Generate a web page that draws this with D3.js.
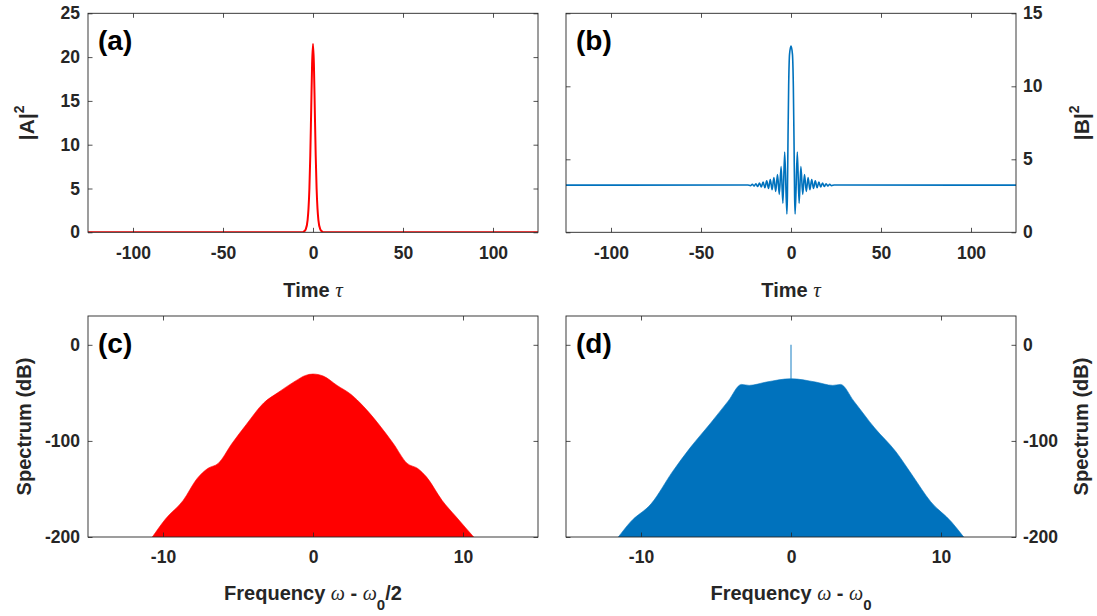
<!DOCTYPE html>
<html lang="en">
<head>
<meta charset="UTF-8">
<title>Pulse and spectrum panels</title>
<script src="https://d3js.org/d3.v7.min.js"></script>
<style>
  body { margin: 0; background: #fff; }
  svg { display: block; }
  .tick text { font-family: "Liberation Sans", Arial, sans-serif; font-weight: bold; fill: #262626; }
  .lbl { font-family: "Liberation Sans", Arial, sans-serif; font-weight: bold; fill: #262626; }
  .greek { font-family: "Liberation Serif", "DejaVu Serif", serif; font-style: italic; font-weight: normal; }
  .panel { font-family: "Liberation Sans", Arial, sans-serif; font-weight: bold; fill: #000; }
</style>
</head>
<body>
<svg id="fig" width="1097" height="616"></svg>
<script>
// ---- data ----
// (a) |A|^2 versus time
const aTau = [-125, -6, -5, -4, -3, -2.5, -2, -1.5, -1, -0.5, 0, 0.5, 1, 1.5, 2, 2.5, 3, 4, 5, 6, 125];
const aPow = [0, 0, 0.1, 0.37, 1.4, 2.7, 5.0, 8.8, 14.0, 19.2, 21.5, 19.2, 14.0, 8.8, 5.0, 2.7, 1.4, 0.37, 0.1, 0, 0];

// (b) |B|^2 versus time (extrema of the ringing tail)
const bTau = [-125, -24, -22.5, -21.5, -20.5, -19.5, -18.5, -17.5, -16.5, -15.5, -14.5, -13.5, -12.5, -11.5, -10.5,
  -9.5, -8.5, -7.5, -6.5, -5.5, -4.5, -3.5, -2.3, -2.0, -1.7, -1.3, -0.8, 0,
  0.8, 1.3, 1.7, 2.0, 2.3, 3.5, 4.5, 5.5, 6.5, 7.5, 8.5, 9.5,
  10.5, 11.5, 12.5, 13.5, 14.5, 15.5, 16.5, 17.5, 18.5, 19.5, 20.5, 21.5, 22.5, 24, 125];
const bPow = [3.23, 3.24, 3.2, 3.29, 3.17, 3.33, 3.14, 3.38, 3.1, 3.44, 3.05, 3.52, 3.0, 3.62, 2.92,
  3.75, 2.8, 3.95, 2.6, 4.5, 2.0, 5.5, 1.25, 2.5, 6.0, 10.0, 12.2, 12.75,
  12.2, 10.0, 6.0, 2.5, 1.25, 5.5, 2.0, 4.5, 2.6, 3.95, 2.8, 3.75,
  2.92, 3.62, 3.0, 3.52, 3.05, 3.44, 3.1, 3.38, 3.14, 3.33, 3.17, 3.29, 3.2, 3.24, 3.23];

// (c) spectrum of A (dB)
const cFreq = [-10.71, -9.82, -8.66, -7.72, -7.02, -6.32, -5.39, -4.46, -3.29, -2.36, -1.19, -0.49, 0,
  0.68, 1.61, 2.54, 3.36, 4.41, 5.34, 6.28, 6.98, 7.56, 8.61, 9.54, 10.71];
const cDb = [-200, -181, -162, -139, -128.7, -123.4, -102.4, -83.2, -60.5, -50, -37.8, -31.8, -30.4,
  -32.5, -42.3, -51.7, -64, -83.2, -102.4, -123.4, -128.7, -137.4, -162, -179, -200];

// (d) spectrum of B (dB)
const dFreq = [-11.51, -10.7, -9.3, -7.9, -6.74, -5.35, -4.19, -3.3, -2.79, -1.63, 0,
  1.63, 2.79, 3.3, 4.19, 5.58, 6.98, 8.14, 9.3, 10.7, 11.51];
const dDb = [-200, -184.3, -165, -132, -107.5, -81.3, -58.6, -41.2, -42.2, -38.7, -35.3,
  -38.7, -42.2, -41.2, -58.6, -86.6, -111, -137, -163, -184.3, -200];
// narrow pump line at the centre of (d)
const dSpikeFreq = [0];
const dSpikeDb = [0];

// ticks
const timeTicks = [-100, -50, 0, 50, 100];
const freqTicks = [-10, 0, 10];
const aTicks = [0, 5, 10, 15, 20, 25];
const bTicks = [0, 5, 10, 15];
const dbTicks = [-200, -100, 0];

const RED = "#ff0000";
const BLUE = "#0072bd";

const svg = d3.select("#fig");
const tickLen = 4.5;

const cols = [{x0: 88, x1: 538}, {x0: 566, x1: 1016}];
const rows = [{y0: 13.3, y1: 232.3}, {y0: 316, y1: 537}];

function makePanel(opt) {
  const c = cols[opt.col], r = rows[opt.row];
  const x = d3.scaleLinear().domain(opt.xDomain).range([c.x0, c.x1]);
  const y = d3.scaleLinear().domain(opt.yDomain).range([r.y1, r.y0]);
  const g = svg.append("g");
  const id = "clip" + opt.name.replace(/\W/g, "");

  svg.append("clipPath").attr("id", id)
    .append("rect").attr("x", c.x0).attr("y", r.y0)
    .attr("width", c.x1 - c.x0).attr("height", r.y1 - r.y0);

  const plot = g.append("g").attr("clip-path", `url(#${id})`);
  opt.draw(plot, x, y);

  const fmt = d => String(d);
  const styleAxis = sel => {
    sel.select(".domain").remove();
    sel.selectAll(".tick line").attr("stroke", "#262626").attr("stroke-width", 0.8);
    sel.selectAll(".tick text").attr("font-size", 17.5);
    sel.attr("font-family", null).attr("font-size", null);
  };

  g.append("g").attr("transform", `translate(0,${r.y1})`)
    .call(d3.axisBottom(x).tickValues(opt.xTicks).tickFormat(fmt)
      .tickSizeInner(-tickLen).tickSizeOuter(0).tickPadding(14))
    .call(styleAxis);
  g.append("g").attr("transform", `translate(0,${r.y0})`)
    .call(d3.axisTop(x).tickValues(opt.xTicks).tickFormat("")
      .tickSizeInner(-tickLen).tickSizeOuter(0))
    .call(styleAxis);

  const labelLeft = opt.ySide === "left";
  g.append("g").attr("transform", `translate(${c.x0},0)`)
    .call(d3.axisLeft(y).tickValues(opt.yTicks).tickFormat(labelLeft ? fmt : "")
      .tickSizeInner(-tickLen).tickSizeOuter(0).tickPadding(8))
    .call(styleAxis);
  g.append("g").attr("transform", `translate(${c.x1},0)`)
    .call(d3.axisRight(y).tickValues(opt.yTicks).tickFormat(labelLeft ? "" : fmt)
      .tickSizeInner(-tickLen).tickSizeOuter(0).tickPadding(7))
    .call(styleAxis);

  g.append("rect")
    .attr("x", c.x0).attr("y", r.y0)
    .attr("width", c.x1 - c.x0).attr("height", r.y1 - r.y0)
    .attr("fill", "none").attr("stroke", "#262626").attr("stroke-width", 0.9);

  g.append("text").attr("class", "panel")
    .attr("x", c.x0 + 10).attr("y", r.y0 + 37)
    .attr("font-size", 28).text(opt.name);

  // x label
  const xl = g.append("text").attr("class", "lbl")
    .attr("x", (c.x0 + c.x1) / 2).attr("y", opt.row === 0 ? 297 : 600)
    .attr("text-anchor", "middle").attr("font-size", 20);
  opt.xLabel(xl);

  // y label
  const yc = (r.y0 + r.y1) / 2;
  const yl = g.append("text").attr("class", "lbl")
    .attr("transform", `translate(${opt.yLabelX},${yc}) rotate(-90)`)
    .attr("text-anchor", "middle").attr("font-size", 20);
  opt.yLabel(yl);
}

function powLabel(letter) {
  return t => {
    t.append("tspan").attr("font-size", 21).text(`|${letter}|`);
    t.append("tspan").attr("font-size", 14).attr("dy", -10).text("2");
  };
}

function timeLabel(t) {
  t.append("tspan").text("Time ");
  t.append("tspan").attr("class", "greek").attr("font-size", 21).text("τ");
}

makePanel({
  name: "(a)", col: 0, row: 0,
  xDomain: [-125, 125], yDomain: [0, 25],
  xTicks: timeTicks, yTicks: aTicks, ySide: "left", yLabelX: 34,
  xLabel: timeLabel, yLabel: powLabel("A"),
  draw: (p, x, y) => {
    const pts = d3.zip(aTau, aPow);
    p.append("path").datum(pts)
      .attr("fill", "none").attr("stroke", RED).attr("stroke-width", 2)
      .attr("d", d3.line().x(d => x(d[0])).y(d => y(d[1])).curve(d3.curveMonotoneX));
  }
});

makePanel({
  name: "(b)", col: 1, row: 0,
  xDomain: [-125, 125], yDomain: [0, 15],
  xTicks: timeTicks, yTicks: bTicks, ySide: "right", yLabelX: 1089,
  xLabel: timeLabel, yLabel: powLabel("B"),
  draw: (p, x, y) => {
    const pts = d3.zip(bTau, bPow);
    p.append("path").datum(pts)
      .attr("fill", "none").attr("stroke", BLUE).attr("stroke-width", 1.6)
      .attr("d", d3.line().x(d => x(d[0])).y(d => y(d[1])).curve(d3.curveMonotoneX));
  }
});

function freqLabel(half) {
  return t => {
    t.append("tspan").text("Frequency ");
    t.append("tspan").attr("class", "greek").text("ω");
    t.append("tspan").text(" - ");
    t.append("tspan").attr("class", "greek").text("ω");
    t.append("tspan").attr("font-size", 15).attr("dy", 10).text("0");
    if (half) t.append("tspan").attr("dy", -10).text("/2");
  };
}

function specLabel(t) { t.text("Spectrum (dB)"); }

function drawSpectrum(freq, db, color) {
  return (p, x, y) => {
    const pts = d3.zip(freq, db);
    p.append("path").datum(pts)
      .attr("fill", color).attr("stroke", color).attr("stroke-width", 0.6)
      .attr("d", d3.area().x(d => x(d[0])).y0(y(-200)).y1(d => y(d[1])).curve(d3.curveMonotoneX));
  };
}

makePanel({
  name: "(c)", col: 0, row: 1,
  xDomain: [-15, 15], yDomain: [-200, 30],
  xTicks: freqTicks, yTicks: dbTicks, ySide: "left", yLabelX: 31,
  xLabel: freqLabel(true), yLabel: specLabel,
  draw: drawSpectrum(cFreq, cDb, RED)
});

makePanel({
  name: "(d)", col: 1, row: 1,
  xDomain: [-15, 15], yDomain: [-200, 30],
  xTicks: freqTicks, yTicks: dbTicks, ySide: "right", yLabelX: 1088,
  xLabel: freqLabel(false), yLabel: specLabel,
  draw: (p, x, y) => {
    drawSpectrum(dFreq, dDb, BLUE)(p, x, y);
    dSpikeFreq.forEach((f, i) => {
      const base = dDb[dFreq.indexOf(f)];
      p.append("line")
        .attr("x1", x(f)).attr("x2", x(f))
        .attr("y1", y(base)).attr("y2", y(dSpikeDb[i]))
        .attr("stroke", BLUE).attr("stroke-opacity", 0.7).attr("stroke-width", 1.3);
    });
  }
});
</script>
</body>
</html>
